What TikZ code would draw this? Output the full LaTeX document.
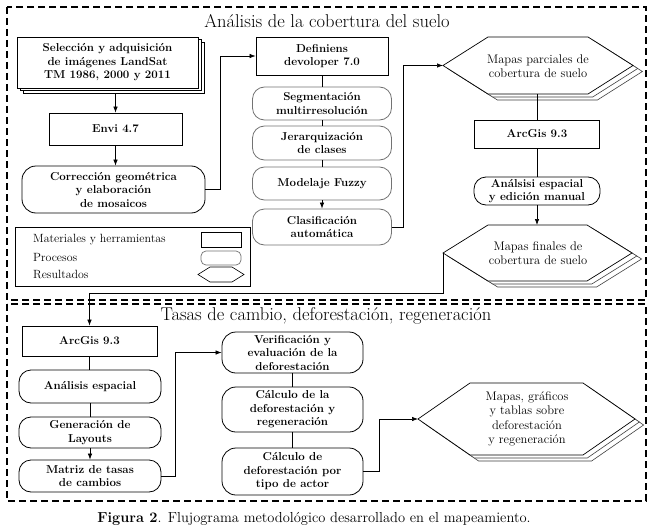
\documentclass[tikz,border=0pt]{standalone}
\usetikzlibrary{arrows.meta}
\newcommand\bxf{\bfseries\fontsize{11.5}{13.5}\selectfont}
\newcommand\rgf{\fontsize{12.5}{14.5}\selectfont}
\newcommand\lgf{\fontsize{11.9}{14}\selectfont}
\newcommand\hexpath[5]{(#1,{(#4+#5)/2}) -- ({#1+#3},#4) -- ({#2-#3},#4) -- (#2,{(#4+#5)/2}) -- ({#2-#3},#5) -- ({#1+#3},#5) -- cycle}
\begin{document}
\begin{tikzpicture}[x=1pt,y=-1pt,
  box/.style={draw, line width=0.8pt, fill=white, inner sep=1pt, align=center, font=\bxf},
  sz/.style 2 args={minimum width=#1pt, minimum height=#2pt},
  mat/.style={box},
  proc/.style={box, rounded corners=12pt},
  procg/.style={proc, draw=black!55},
  hextxt/.style={align=center, font=\rgf, inner sep=0pt},
  arr/.style={-{Latex[length=6pt,width=4.5pt]}, line width=0.7pt},
  ln/.style={line width=0.7pt},
  frame/.style={line width=1.8pt, dash pattern=on 7pt off 4pt},
  hexs/.style={draw, line width=0.7pt, fill=white},
  hexsh/.style={draw=black!75, line width=0.6pt, fill=white},
  ttl/.style={font=\fontsize{18.5}{21}\selectfont, inner sep=0pt},
  lgt/.style={anchor=west, font=\lgf, inner sep=0pt}
]
\useasboundingbox[fill=white] (0,0) rectangle (655,532);

% frames
\draw[frame] (7,7) rectangle (646,300);
\draw[frame] (7,304) rectangle (646,501);

% titles
\node[ttl] (t1) at (327,21) {Análisis de la cobertura del suelo};
\node[ttl] (t2) at (326,316) {Tasas de cambio, deforestación, regeneración};
\node[font=\fontsize{14.5}{16}\selectfont, inner sep=0pt] (cap) at (314,519) {\textbf{Figura 2}. Flujograma metodológico desarrollado en el mapeamiento.};

% top-left column
\draw[box] (23,42) rectangle (204,93);
\draw[box] (20,39.5) rectangle (201,90.5);
\node[mat, sz={181}{51}] (sel) at (107.5,62.5) {Selección y adquisición\\de imágenes LandSat\\TM 1986, 2000 y 2011};
\coordinate (selb) at ([yshift=-5pt]sel.south);
\node[mat, sz={133}{32}] (envi) at (115.5,129) {Envi 4.7};
\node[proc, sz={183}{47}, rounded corners=14pt] (cor) at (113.5,189.5) {Corrección geométrica\\y elaboración\\de mosaicos};

% middle column
\node[mat, sz={132}{38}] (def) at (322,56) {Definiens\\devoloper 7.0};
\node[procg, sz={139}{33}] (seg) at (322,103.5) {Segmentación\\multirresolución};
\node[procg, sz={139}{34}] (jer) at (322,143) {Jerarquización\\de clases};
\node[procg, sz={139}{33}] (mod) at (322,183.5) {Modelaje Fuzzy};
\node[procg, sz={139}{36}] (cla) at (322,227) {Clasificación\\automática};

% right column
\draw[hexsh, shift={(9.4,6)}] \hexpath{443}{633}{45}{37}{94};
\draw[hexsh, shift={(4.7,3)}] \hexpath{443}{633}{45}{37}{94};
\draw[hexs] \hexpath{443}{633}{45}{37}{94};
\node[hextxt] (h1) at (538,66) {Mapas parciales de\\cobertura de suelo};
\coordinate (h1L) at (443,65.5);
\coordinate (h1B) at (537,94);

\node[mat, sz={125}{28}] (arc1) at (537,134) {ArcGis 9.3};
\node[proc, sz={126}{28}] (ana1) at (537,191) {Análsisi espacial\\y edición manual};

\draw[hexsh, shift={(9.6,6)}] \hexpath{443}{632}{45}{225}{281};
\draw[hexsh, shift={(4.8,3)}] \hexpath{443}{632}{45}{225}{281};
\draw[hexs] \hexpath{443}{632}{45}{225}{281};
\node[hextxt] (h2) at (538,253) {Mapas finales de\\cobertura de suelo};
\coordinate (h2L) at (443,253);
\coordinate (h2T) at (537,225);

% legend
\node[draw, line width=0.9pt, sz={235}{59}, inner sep=0pt] (leg) at (132.5,256.5) {};
\node[lgt] (l1) at (33,240) {Materiales y herramientas};
\node[lgt] (l2) at (33,257) {Procesos};
\node[lgt] (l3) at (33,274) {Resultados};
\node[draw, line width=0.7pt, sz={40}{15}, inner sep=0pt] (s1) at (221,239.5) {};
\node[draw=black!55, line width=0.7pt, rounded corners=5pt, sz={40}{14}, inner sep=0pt] (s2) at (221,258) {};
\draw[line width=0.6pt] \hexpath{198}{244}{12}{267}{282};

% bottom section
\node[mat, sz={135}{30}] (arc2) at (89.5,341) {ArcGis 9.3};
\node[proc, sz={142}{33}] (ana2) at (90,386.5) {Análisis espacial};
\node[proc, sz={142}{31}] (gen) at (90,432.5) {Generación de\\Layouts};
\node[proc, sz={142}{32}] (mat2) at (90,476) {Matriz de tasas\\de cambios};

\node[proc, sz={141}{41}, rounded corners=14pt] (ver) at (292.5,352.5) {Verificación y\\evaluación de la\\deforestación};
\node[proc, sz={141}{45}, rounded corners=14pt] (cal1) at (292.5,409.5) {Cálculo de la\\deforestación y\\regeneración};
\node[proc, sz={141}{47}, rounded corners=14pt] (cal2) at (292.5,471.5) {Cálculo de\\deforestación por\\tipo de actor};

\draw[hexsh, shift={(8.6,6)}] \hexpath{418}{635}{52}{383}{455};
\draw[hexsh, shift={(4.3,3)}] \hexpath{418}{635}{52}{383}{455};
\draw[hexs] \hexpath{418}{635}{52}{383}{455};
\node[hextxt] (h3) at (527,419) {Mapas, gráficos\\y tablas sobre\\deforestación\\y regeneración};
\coordinate (h3L) at (418,419);

% connectors top
\draw[arr] (envi.north |- selb) -- (envi.north);
\draw[arr] (envi.south) -- (envi.south |- cor.north);
\draw[arr] (cor.east) -- ++(15,0) |- (def.west);
\draw[ln] (def.south) -- (seg.north);
\draw[ln] (seg.south) -- (jer.north);
\draw[ln] (jer.south) -- (mod.north);
\draw[arr] (mod.south) -- (cla.north);
\draw[arr] (cla.east) -- ++(11,0) |- (h1L);
\draw[ln] (h1B) -- (arc1.north);
\draw[ln] (arc1.south) -- (ana1.north);
\draw[arr] (ana1.south) -- (h2T);
\draw[arr] (h2L) -- ++(0,40) -| (arc2.north);

% connectors bottom
\draw[ln] (arc2.south) -- (arc2.south |- ana2.north);
\draw[ln] (ana2.south) -- (gen.north);
\draw[arr] (gen.south) -- (mat2.north);
\draw[arr] (mat2.east) -- ++(14,0) |- (ver.west);
\draw[ln] (ver.south) -- (cal1.north);
\draw[ln] (cal1.south) -- (cal2.north);
\draw[arr] (cal2.east) -- ++(16,0) |- (h3L);
\end{tikzpicture}
\end{document}
